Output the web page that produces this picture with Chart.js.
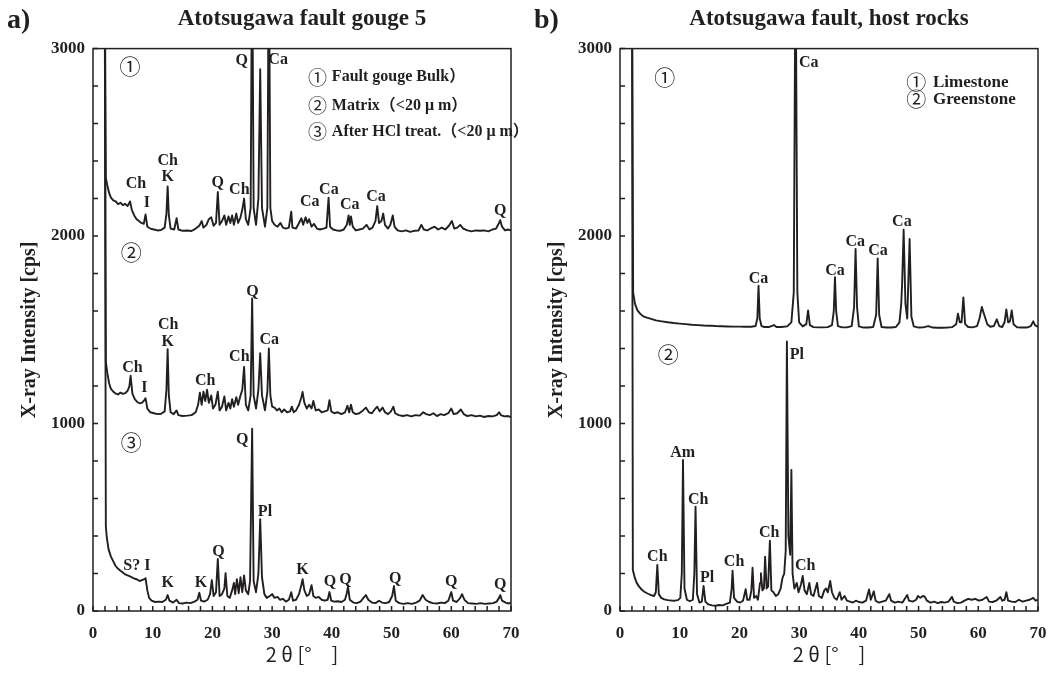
<!DOCTYPE html>
<html>
<head>
<meta charset="utf-8">
<script src="https://cdn.jsdelivr.net/npm/chart.js@4.4.1/dist/chart.umd.min.js"></script>
<style>
  body { margin: 0; background: #fff; }
  #wrap { position: relative; width: 1054px; height: 674px; }
  canvas { position: absolute; top: 0; }
  #gouge { left: 0; }
  #host { left: 527px; }
</style>
</head>
<body>
<div id="wrap">
  <canvas id="gouge" width="527" height="674"></canvas>
  <canvas id="host" width="527" height="674"></canvas>
</div>
<script>
// colours and fonts
var ink = '#231f20';
var serif = '"Liberation Serif", "Times New Roman", serif';
var cjk = '"Noto Sans CJK JP", sans-serif';

// ---- panel a) : Atotsugawa fault gouge 5, [2theta, cps] ----
var gougeBulk = [
  [1.95,3600],[2.15,2310],[2.4,2270],[2.7,2230],[3.0,2205],[3.4,2190],[3.8,2185],[4.2,2170],[4.6,2178],[5.0,2165],
  [5.4,2172],[5.8,2160],[6.2,2185],[6.5,2140],[6.9,2110],[7.3,2090],[7.7,2080],[8.1,2070],[8.5,2065],[8.8,2115],
  [9.1,2050],[9.6,2040],[10.2,2035],[10.8,2030],[11.4,2032],[12.0,2045],[12.3,2120],[12.5,2265],[12.7,2110],[13.0,2040],
  [13.6,2035],[14.0,2095],[14.3,2035],[15.0,2028],[15.8,2030],[16.5,2027],[17.2,2040],[17.8,2055],[18.2,2080],[18.5,2045],
  [19.0,2060],[19.4,2090],[19.8,2100],[20.2,2055],[20.6,2070],[20.9,2235],[21.2,2060],[21.6,2080],[22.0,2110],[22.3,2060],
  [22.7,2105],[23.0,2070],[23.3,2110],[23.6,2060],[24.0,2120],[24.3,2070],[24.7,2100],[25.0,2140],[25.3,2200],[25.6,2090],
  [26.0,2060],[26.4,2150],[26.65,3600],[26.9,2150],[27.3,2060],[27.7,2200],[28.0,2890],[28.3,2150],[28.8,2050],[29.2,2150],
  [29.45,3600],[29.7,2150],[30.0,2080],[30.4,2060],[30.9,2050],[31.4,2070],[31.8,2045],[32.3,2040],[32.8,2045],[33.2,2130],
  [33.4,2045],[34.0,2040],[34.5,2070],[34.9,2095],[35.2,2060],[35.6,2100],[35.9,2070],[36.2,2090],[36.6,2050],[37.0,2065],
  [37.5,2040],[38.0,2035],[38.6,2040],[39.1,2045],[39.45,2205],[39.7,2050],[40.2,2035],[40.8,2030],[41.4,2028],[42.0,2035],
  [42.5,2060],[42.8,2110],[43.0,2060],[43.2,2105],[43.5,2050],[44.0,2030],[44.6,2035],[45.2,2040],[45.8,2060],[46.3,2035],
  [46.8,2045],[47.3,2080],[47.6,2160],[47.9,2070],[48.3,2080],[48.6,2120],[48.9,2060],[49.4,2040],[49.8,2060],[50.2,2110],
  [50.5,2050],[51.0,2030],[51.7,2025],[52.4,2030],[53.1,2022],[53.8,2028],[54.5,2030],[55.0,2060],[55.4,2035],[56.0,2030],
  [56.5,2040],[57.2,2050],[57.8,2035],[58.4,2045],[59.0,2035],[59.6,2055],[60.1,2080],[60.5,2040],[61.0,2045],[61.5,2060],
  [62.0,2040],[62.7,2030],[63.4,2025],[64.1,2030],[64.8,2028],[65.5,2030],[66.2,2025],[66.9,2035],[67.5,2040],[68.0,2070],
  [68.2,2085],[68.5,2050],[69.0,2030],[69.5,2035],[70.0,2030]
];
var gougeMatrix = [
  [1.95,3600],[2.15,1330],[2.4,1270],[2.7,1215],[3.0,1185],[3.4,1170],[3.8,1160],[4.2,1155],[4.6,1165],[5.0,1158],
  [5.4,1162],[5.8,1175],[6.1,1200],[6.3,1255],[6.6,1160],[7.0,1130],[7.4,1115],[7.8,1108],[8.2,1110],[8.6,1125],
  [8.8,1135],[9.1,1080],[9.6,1060],[10.2,1055],[10.8,1050],[11.4,1052],[12.0,1065],[12.3,1180],[12.5,1396],[12.7,1150],
  [13.0,1060],[13.5,1050],[14.0,1070],[14.3,1045],[15.0,1040],[15.8,1042],[16.5,1045],[17.2,1060],[17.6,1100],[17.9,1165],
  [18.2,1100],[18.5,1170],[18.8,1120],[19.1,1180],[19.4,1110],[19.8,1150],[20.1,1080],[20.5,1100],[20.9,1170],[21.2,1070],
  [21.6,1090],[22.0,1145],[22.3,1070],[22.7,1110],[23.0,1080],[23.3,1130],[23.6,1090],[24.0,1140],[24.3,1100],[24.7,1150],
  [25.0,1180],[25.3,1302],[25.6,1100],[26.0,1070],[26.4,1150],[26.65,1667],[26.9,1150],[27.3,1080],[27.7,1180],[28.0,1375],
  [28.3,1150],[28.8,1070],[29.2,1170],[29.45,1400],[29.7,1150],[30.0,1090],[30.4,1085],[30.8,1070],[31.2,1080],[31.6,1060],
  [32.0,1075],[32.5,1060],[33.0,1065],[33.3,1090],[33.6,1060],[34.0,1070],[34.5,1100],[34.9,1140],[35.1,1168],[35.4,1110],
  [35.8,1080],[36.2,1100],[36.6,1080],[36.9,1120],[37.3,1070],[37.8,1075],[38.3,1060],[38.8,1065],[39.3,1070],[39.6,1124],
  [39.9,1065],[40.4,1055],[41.0,1060],[41.6,1050],[42.2,1060],[42.6,1095],[42.9,1060],[43.2,1100],[43.5,1060],[44.0,1050],
  [44.6,1055],[45.2,1070],[45.7,1085],[46.2,1060],[46.7,1055],[47.3,1080],[47.6,1090],[48.0,1065],[48.5,1085],[48.9,1060],
  [49.4,1050],[49.9,1065],[50.3,1090],[50.6,1055],[51.2,1045],[51.9,1040],[52.6,1045],[53.3,1038],[54.0,1045],[54.7,1042],
  [55.3,1060],[55.8,1050],[56.4,1045],[57.0,1055],[57.6,1040],[58.2,1050],[58.8,1045],[59.5,1055],[60.0,1080],[60.4,1050],
  [61.0,1055],[61.6,1075],[62.1,1050],[62.7,1040],[63.4,1045],[64.1,1038],[64.8,1042],[65.5,1035],[66.2,1040],[66.9,1038],
  [67.6,1045],[68.0,1060],[68.3,1045],[68.9,1038],[69.5,1040],[70.0,1035]
];
var gougeHCl = [
  [1.95,3600],[2.15,450],[2.3,396],[2.6,330],[3.0,290],[3.4,265],[3.8,240],[4.2,225],[4.6,215],[5.0,205],
  [5.4,195],[5.8,190],[6.2,185],[6.6,178],[7.0,172],[7.4,168],[7.8,160],[8.2,165],[8.6,170],[8.8,175],
  [9.1,110],[9.4,70],[9.8,55],[10.4,48],[11.0,50],[11.6,48],[12.2,60],[12.5,85],[12.8,55],[13.4,45],
  [14.0,60],[14.4,42],[15.0,40],[15.7,45],[16.3,42],[17.0,50],[17.5,60],[17.8,98],[18.1,55],[18.6,50],
  [19.2,60],[19.6,90],[19.9,165],[20.2,80],[20.6,100],[20.9,277],[21.2,80],[21.6,90],[22.0,120],[22.2,202],
  [22.5,80],[22.9,70],[23.3,110],[23.6,150],[23.8,90],[24.1,170],[24.4,95],[24.7,180],[25.0,100],[25.3,190],
  [25.6,110],[26.0,90],[26.3,160],[26.65,973],[26.9,160],[27.3,100],[27.7,200],[28.0,490],[28.3,180],[28.7,90],
  [29.1,70],[29.6,80],[30.0,90],[30.4,70],[30.9,75],[31.3,60],[31.8,65],[32.3,50],[32.8,60],[33.2,100],
  [33.5,55],[34.0,60],[34.5,90],[34.9,140],[35.1,170],[35.4,110],[35.8,80],[36.2,90],[36.6,138],[36.9,80],
  [37.3,70],[37.8,75],[38.3,60],[38.8,55],[39.3,60],[39.6,101],[39.9,55],[40.4,50],[41.0,52],[41.6,48],
  [42.2,60],[42.5,95],[42.7,130],[43.0,60],[43.6,45],[44.2,42],[44.8,50],[45.3,70],[45.7,85],[46.1,60],
  [46.7,45],[47.3,42],[47.9,55],[48.4,45],[49.0,42],[49.6,48],[50.1,80],[50.4,133],[50.7,55],[51.3,42],
  [52.0,38],[52.7,42],[53.4,38],[54.1,45],[54.7,55],[55.2,85],[55.7,60],[56.3,48],[56.9,42],[57.6,40],
  [58.3,45],[58.9,42],[59.5,55],[60.0,101],[60.3,55],[60.9,48],[61.5,70],[61.8,90],[62.2,60],[62.8,42],
  [63.5,40],[64.2,38],[64.9,42],[65.6,38],[66.3,40],[67.0,42],[67.6,50],[68.0,70],[68.2,85],[68.5,55],
  [69.1,45],[69.6,40],[70.0,45]
];

// ---- panel b) : host rocks ----
var limestone = [
  [2.0,3600],[2.2,1700],[2.5,1640],[2.9,1605],[3.4,1585],[3.9,1572],[4.5,1565],[5.2,1558],[6.0,1550],[7.0,1545],
  [8.0,1540],[9.0,1536],[10.0,1533],[11.0,1530],[12.0,1527],[13.0,1525],[14.0,1523],[15.0,1522],[16.0,1520],[17.0,1519],
  [18.0,1518],[19.0,1517],[20.0,1517],[21.0,1516],[22.0,1516],[22.7,1520],[23.0,1560],[23.2,1735],[23.4,1560],[23.7,1520],
  [24.2,1515],[25.0,1515],[25.8,1525],[26.2,1515],[27.0,1515],[28.0,1518],[28.7,1540],[29.1,1700],[29.4,3600],[29.7,1700],
  [30.0,1540],[30.6,1518],[31.2,1530],[31.5,1603],[31.8,1525],[32.4,1514],[33.2,1513],[34.0,1513],[34.8,1514],[35.5,1525],
  [35.8,1600],[36.0,1781],[36.2,1600],[36.5,1520],[37.2,1513],[38.0,1513],[38.8,1520],[39.2,1620],[39.45,1931],[39.7,1620],
  [40.0,1518],[40.8,1512],[41.6,1512],[42.4,1515],[42.9,1580],[43.15,1881],[43.4,1580],[43.8,1515],[44.6,1512],[45.4,1512],
  [46.2,1515],[46.8,1540],[47.1,1640],[47.25,1750],[47.5,2034],[47.8,1640],[48.1,1560],[48.5,1984],[48.8,1570],[49.2,1518],
  [50.0,1512],[50.8,1513],[51.6,1520],[52.4,1512],[53.2,1511],[54.0,1511],[54.8,1512],[55.6,1514],[56.3,1530],[56.6,1586],
  [56.9,1540],[57.2,1540],[57.5,1673],[57.8,1530],[58.3,1515],[59.0,1513],[59.8,1520],[60.2,1560],[60.6,1622],[60.9,1590],
  [61.2,1560],[61.5,1530],[62.0,1516],[62.6,1520],[63.1,1556],[63.5,1520],[64.0,1515],[64.4,1540],[64.7,1609],[65.0,1540],
  [65.3,1545],[65.6,1603],[65.9,1530],[66.5,1513],[67.3,1512],[68.1,1512],[68.8,1520],[69.2,1545],[69.5,1525],[70.0,1515]
];
var greenstone = [
  [2.0,3600],[2.15,219],[2.5,175],[2.8,150],[3.2,130],[3.7,112],[4.2,100],[4.7,92],[5.2,85],[5.7,80],
  [6.0,100],[6.25,246],[6.5,90],[6.9,70],[7.4,62],[8.0,58],[8.6,56],[9.2,55],[9.7,58],[10.1,70],
  [10.35,200],[10.55,806],[10.8,120],[11.2,60],[11.7,52],[12.2,60],[12.45,200],[12.65,557],[12.9,90],[13.3,45],
  [13.7,50],[14.0,133],[14.3,50],[14.8,35],[15.4,30],[16.0,28],[16.6,32],[17.2,30],[17.8,38],[18.4,45],
  [18.7,120],[18.85,215],[19.1,70],[19.6,50],[20.1,45],[20.6,55],[21.05,116],[21.3,60],[21.7,60],[22.0,110],
  [22.2,231],[22.45,70],[22.8,80],[23.1,60],[23.45,150],[23.6,201],[23.85,110],[24.1,120],[24.3,290],[24.55,120],
  [24.8,130],[25.1,375],[25.35,110],[25.7,100],[26.1,80],[26.5,90],[26.9,120],[27.2,175],[27.5,200],[27.75,320],
  [27.95,1438],[28.2,400],[28.5,300],[28.7,753],[28.9,200],[29.2,120],[29.6,150],[29.9,100],[30.3,140],[30.6,187],
  [30.9,110],[31.3,90],[31.7,150],[32.0,90],[32.4,80],[33.0,150],[33.3,80],[33.8,70],[34.2,110],[34.5,120],
  [34.8,100],[35.2,160],[35.5,100],[35.9,70],[36.3,60],[36.8,100],[37.1,60],[37.6,80],[38.0,55],[38.5,50],
  [39.0,45],[39.5,55],[40.0,48],[40.6,45],[41.2,55],[41.7,115],[42.0,60],[42.5,105],[42.8,55],[43.3,45],
  [43.9,50],[44.5,55],[45.1,90],[45.4,55],[46.0,45],[46.6,50],[47.3,45],[48.1,85],[48.4,55],[49.0,50],
  [49.6,60],[49.9,80],[50.3,70],[50.7,80],[51.0,78],[51.4,55],[52.0,45],[52.6,50],[53.2,42],[53.8,48],
  [54.4,45],[55.0,50],[55.6,75],[55.9,50],[56.5,42],[57.1,45],[57.7,55],[58.3,65],[58.9,60],[59.5,65],
  [60.1,55],[60.7,60],[61.4,75],[61.8,50],[62.4,48],[63.0,55],[63.7,75],[64.0,55],[64.4,60],[64.7,100],
  [65.0,55],[65.6,50],[66.2,48],[66.8,60],[67.4,50],[68.0,55],[68.6,60],[69.2,70],[69.6,55],[70.0,60]
];

// ---- annotations (text, anchored in data units) ----
var gougePeaks = [
  {t:'Q',x:24.9,y:2936},{t:'Ca',x:31.0,y:2939},{t:'Ch',x:7.2,y:2279},{t:'I',x:9.0,y:2175},
  {t:'Ch',x:12.5,y:2399},{t:'K',x:12.5,y:2314},{t:'Q',x:20.9,y:2282},{t:'Ch',x:24.5,y:2247},
  {t:'Ca',x:36.3,y:2181},{t:'Ca',x:39.5,y:2247},{t:'Ca',x:43.0,y:2168},{t:'Ca',x:47.4,y:2211},{t:'Q',x:68.2,y:2136},
  {t:'Q',x:26.7,y:1705},{t:'Ch',x:12.6,y:1524},{t:'K',x:12.5,y:1435},{t:'Ca',x:29.5,y:1444},
  {t:'Ch',x:24.5,y:1355},{t:'Ch',x:6.6,y:1296},{t:'I',x:8.6,y:1190},{t:'Ch',x:18.8,y:1225},
  {t:'Q',x:25.0,y:911},{t:'Pl',x:28.8,y:527},{t:'Q',x:21.0,y:316},{t:'S?',x:6.5,y:241},{t:'I',x:9.1,y:241},
  {t:'K',x:12.5,y:151},{t:'K',x:18.1,y:151},{t:'K',x:35.1,y:218},{t:'Q',x:39.7,y:156},{t:'Q',x:42.3,y:165},
  {t:'Q',x:50.6,y:169},{t:'Q',x:60.0,y:156},{t:'Q',x:68.2,y:142}
];
var gougeMarks = [{t:'①',x:6.2,y:2909},{t:'②',x:6.4,y:1914},{t:'③',x:6.4,y:902}];
var gougeKey = [
  {m:'①',t:'Fault gouge Bulk）',mx:37.6,tx:40.0,y:2847},
  {m:'②',t:'Matrix（<20 μ m）',mx:37.6,tx:40.0,y:2696},
  {m:'③',t:'After HCl treat.（<20 μ m）',mx:37.6,tx:40.0,y:2554}
];
var hostPeaks = [
  {t:'Ca',x:31.6,y:2924},{t:'Ca',x:23.2,y:1771},{t:'Ca',x:36.0,y:1817},{t:'Ca',x:39.4,y:1968},
  {t:'Ca',x:43.2,y:1922},{t:'Ca',x:47.2,y:2078},
  {t:'Pl',x:29.6,y:1367},{t:'Am',x:10.5,y:845},{t:'Ch',x:13.1,y:593},{t:'Pl',x:14.6,y:175},
  {t:'Ch',x:6.25,y:290},{t:'Ch',x:19.1,y:263},{t:'Ch',x:25.0,y:415},{t:'Ch',x:31.0,y:242}
];
var hostMarks = [{t:'①',x:7.5,y:2847},{t:'②',x:8.1,y:1372}];
var hostKey = [
  {m:'①',t:'Limestone',mx:49.6,tx:52.4,y:2821},
  {m:'②',t:'Greenstone',mx:49.6,tx:52.4,y:2728}
];

function toXY(rows) {
  return rows.map(function (r) { return {x: r[0], y: r[1]}; });
}

function trace(rows) {
  return {
    data: toXY(rows),
    borderColor: ink,
    borderWidth: 1.9,
    borderJoinStyle: 'round',
    pointRadius: 0,
    tension: 0,
    fill: false
  };
}

// frame, inward ticks and all the text labels
function textLayer(letter, peaks, marks, key, keySize) {
  return {
    id: 'textLayer',
    afterDatasetsDraw: function (chart) {
      var ctx = chart.ctx, a = chart.chartArea;
      var xs = chart.scales.x, ys = chart.scales.y;
      ctx.save();
      ctx.strokeStyle = ink;
      ctx.lineWidth = 1.5;
      ctx.strokeRect(a.left, a.top, a.right - a.left, a.bottom - a.top);
      ctx.beginPath();
      ys.ticks.forEach(function (t) {
        var py = ys.getPixelForValue(t.value);
        ctx.moveTo(a.left, py); ctx.lineTo(a.left + 5, py);
      });
      xs.ticks.forEach(function (t) {
        var px = xs.getPixelForValue(t.value);
        ctx.moveTo(px, a.bottom); ctx.lineTo(px, a.bottom - 5);
      });
      ctx.stroke();

      ctx.fillStyle = ink;
      ctx.textAlign = 'center';
      ctx.textBaseline = 'middle';
      ctx.font = 'bold 16px ' + serif;
      peaks.forEach(function (p) {
        ctx.fillText(p.t, xs.getPixelForValue(p.x), ys.getPixelForValue(p.y));
      });
      ctx.font = '21px ' + cjk;
      marks.forEach(function (p) {
        ctx.fillText(p.t, xs.getPixelForValue(p.x), ys.getPixelForValue(p.y));
      });
      key.forEach(function (k) {
        ctx.textAlign = 'center';
        ctx.font = (keySize + 3) + 'px ' + cjk;
        ctx.fillText(k.m, xs.getPixelForValue(k.mx), ys.getPixelForValue(k.y));
        ctx.textAlign = 'left';
        ctx.font = 'bold ' + keySize + 'px ' + serif + ', ' + cjk;
        ctx.fillText(k.t, xs.getPixelForValue(k.tx), ys.getPixelForValue(k.y));
      });
      ctx.textAlign = 'left';
      ctx.font = 'bold 28px ' + serif;
      ctx.fillText(letter, 7, 21);
      ctx.restore();
    }
  };
}

function panelOptions(titleText) {
  var tickFont = {family: serif, size: 17, weight: 'bold'};
  return {
    responsive: false,
    animation: false,
    layout: {padding: {left: 0, right: 16, top: 0, bottom: 0}},
    plugins: {
      legend: {display: false},
      tooltip: {enabled: false},
      title: {
        display: true, text: titleText, fullSize: false, color: ink,
        font: {family: serif, size: 23, weight: 'bold', lineHeight: 1.2},
        padding: {top: 5, bottom: 16}
      }
    },
    scales: {
      x: {
        type: 'linear', min: 0, max: 70,
        afterFit: function (s) { s.height = 63; s.paddingLeft = 0; s.paddingRight = 0; },
        grid: {display: false, drawTicks: false},
        border: {display: false},
        ticks: {
          stepSize: 2, autoSkip: false, maxRotation: 0, padding: 12, color: ink, font: tickFont,
          callback: function (v) { return v % 10 === 0 ? String(v) : ''; }
        },
        title: {
          display: true, text: '2 θ [°　]', color: ink,
          font: {family: cjk, size: 20, weight: 'normal', lineHeight: 1.2},
          padding: {top: 0, bottom: 8}
        }
      },
      y: {
        type: 'linear', min: 0, max: 3000,
        afterFit: function (s) { s.width = 93; },
        grid: {display: false, drawTicks: false},
        border: {display: false},
        ticks: {
          stepSize: 200, padding: 8, color: ink, font: tickFont,
          callback: function (v) { return v % 1000 === 0 ? String(v) : ''; }
        },
        title: {
          display: true, text: 'X-ray Intensity [cps]', color: ink,
          font: {family: serif, size: 20, weight: 'bold', lineHeight: 1.2},
          padding: {top: 18, bottom: 0}
        }
      }
    }
  };
}

new Chart(document.getElementById('gouge').getContext('2d'), {
  type: 'line',
  data: {datasets: [trace(gougeBulk), trace(gougeMatrix), trace(gougeHCl)]},
  options: panelOptions('Atotsugawa fault gouge 5'),
  plugins: [textLayer('a)', gougePeaks, gougeMarks, gougeKey, 16)]
});

new Chart(document.getElementById('host').getContext('2d'), {
  type: 'line',
  data: {datasets: [trace(limestone), trace(greenstone)]},
  options: panelOptions('Atotsugawa fault, host rocks'),
  plugins: [textLayer('b)', hostPeaks, hostMarks, hostKey, 17)]
});
</script>
</body>
</html>
